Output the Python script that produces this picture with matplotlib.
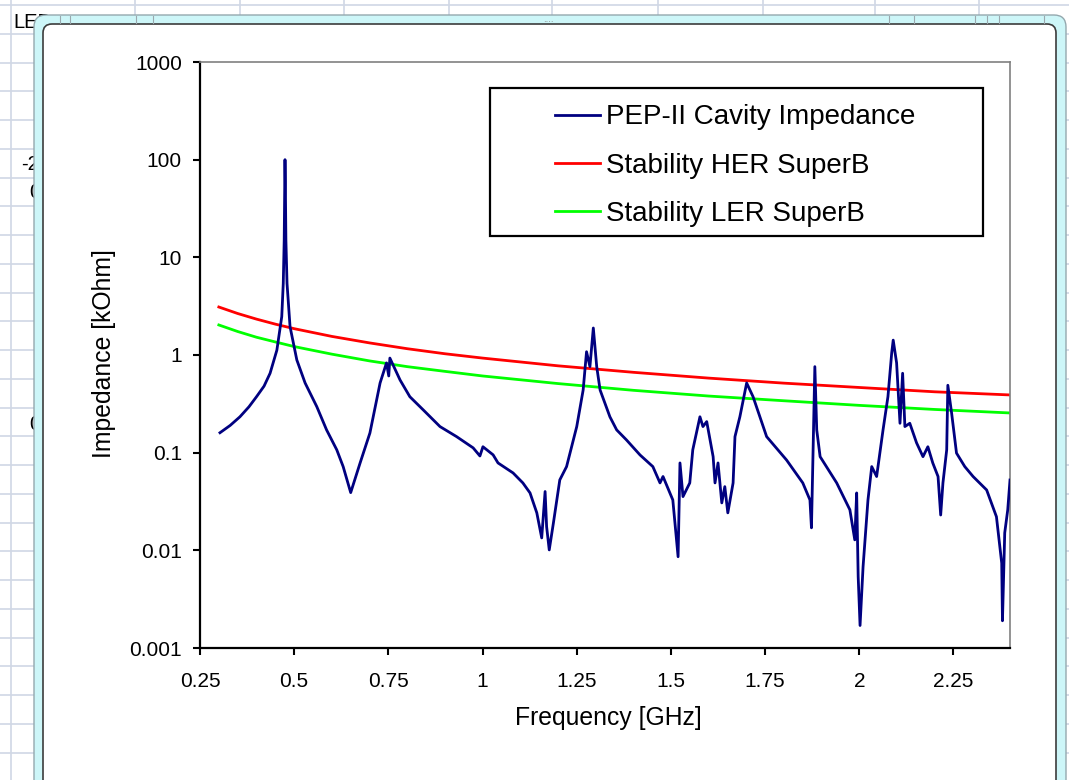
"""PEP-II cavity impedance vs SuperB stability limits (Excel screenshot look)."""
import matplotlib
matplotlib.use("Agg")
import matplotlib.pyplot as plt
from matplotlib.patches import FancyBboxPatch, Rectangle
from matplotlib.ticker import NullLocator
import numpy as np

plt.rcParams["font.family"] = ["Liberation Sans", "DejaVu Sans"]

# ── data ────────────────────────────────────────────────────────────────────
PEP_FREQ = [
    0.303, 0.330, 0.356, 0.380, 0.400, 0.420, 0.436, 0.454, 0.467, 0.471,
    0.4735, 0.475, 0.4756, 0.4765, 0.478, 0.481, 0.489, 0.507, 0.529, 0.560,
    0.586, 0.613, 0.630, 0.650, 0.675, 0.701, 0.728, 0.745, 0.751, 0.754,
    0.781, 0.807, 0.843, 0.887, 0.931, 0.975, 0.993, 1.001, 1.028, 1.041,
    1.081, 1.107, 1.126, 1.144, 1.157, 1.166, 1.170, 1.177, 1.188, 1.205,
    1.223, 1.250, 1.267, 1.276, 1.285, 1.294, 1.303, 1.312, 1.338, 1.356,
    1.382, 1.418, 1.452, 1.471, 1.479, 1.505, 1.519, 1.524, 1.532, 1.550,
    1.558, 1.577, 1.585, 1.595, 1.612, 1.617, 1.625, 1.635, 1.643, 1.651,
    1.665, 1.670, 1.683, 1.701, 1.718, 1.754, 1.807, 1.850, 1.869, 1.873,
    1.882, 1.887, 1.896, 1.940, 1.975, 1.988, 1.993, 1.997, 2.002, 2.010,
    2.023, 2.033, 2.046, 2.063, 2.076, 2.086, 2.090, 2.099, 2.108, 2.115,
    2.121, 2.134, 2.152, 2.169, 2.182, 2.195, 2.209, 2.216, 2.222, 2.232,
    2.235, 2.245, 2.258, 2.280, 2.302, 2.338, 2.364, 2.378, 2.380, 2.386,
    2.394, 2.400,
]
PEP_Z = [
    0.160, 0.190, 0.233, 0.295, 0.374, 0.48, 0.65, 1.12, 2.47, 5.4,
    15, 60, 100, 60, 15, 5.4, 1.95, 0.89, 0.517, 0.296,
    0.171, 0.107, 0.072, 0.039, 0.0785, 0.159, 0.517, 0.83, 0.61, 0.93,
    0.555, 0.374, 0.273, 0.185, 0.146, 0.112, 0.0925, 0.115, 0.095, 0.0785,
    0.062, 0.049, 0.0387, 0.0242, 0.0134, 0.040, 0.0175, 0.0101, 0.019, 0.0526,
    0.072, 0.185, 0.438, 1.08, 0.76, 1.89, 0.76, 0.438, 0.233, 0.171,
    0.135, 0.0947, 0.072, 0.049, 0.057, 0.0328, 0.0086, 0.0785, 0.0355, 0.049,
    0.107, 0.233, 0.185, 0.208, 0.091, 0.049, 0.0785, 0.0306, 0.0449, 0.0242,
    0.049, 0.146, 0.233, 0.517, 0.374, 0.146, 0.084, 0.049, 0.0328, 0.017,
    0.76, 0.171, 0.091, 0.049, 0.026, 0.0128, 0.0387, 0.0054, 0.0017, 0.0068,
    0.0328, 0.072, 0.057, 0.171, 0.374, 1.05, 1.42, 0.83, 0.20, 0.65,
    0.185, 0.20, 0.126, 0.091, 0.115, 0.0785, 0.057, 0.023, 0.049, 0.107,
    0.49, 0.255, 0.099, 0.072, 0.057, 0.0415, 0.0221, 0.0074, 0.0019, 0.0151,
    0.026, 0.0525,
]

STAB_FREQ = [0.30, 0.35, 0.40, 0.45, 0.50, 0.60, 0.70, 0.80, 0.90, 1.00,
             1.20, 1.40, 1.60, 1.80, 2.00, 2.20, 2.40]
HER_Z = [3.10, 2.66, 2.33, 2.07, 1.86, 1.55, 1.33, 1.16, 1.03, 0.93,
         0.775, 0.665, 0.58, 0.515, 0.465, 0.42, 0.39]
LER_Z = [2.03, 1.74, 1.52, 1.36, 1.22, 1.02, 0.87, 0.76, 0.68, 0.61,
         0.51, 0.435, 0.38, 0.34, 0.305, 0.277, 0.255]

X_TICKS = [0.25, 0.5, 0.75, 1.0, 1.25, 1.5, 1.75, 2.0, 2.25]
X_LABELS = ["0.25", "0.5", "0.75", "1", "1.25", "1.5", "1.75", "2", "2.25"]
Y_TICKS = [0.001, 0.01, 0.1, 1, 10, 100, 1000]
Y_LABELS = ["0.001", "0.01", "0.1", "1", "10", "100", "1000"]

W, H = 1069, 780
fig = plt.figure(figsize=(W / 100, H / 100), dpi=100)

# ── spreadsheet + chart window backdrop (pixel coords) ─────────────────────
bg = fig.add_axes([0, 0, 1, 1])
bg.set_xlim(0, W)
bg.set_ylim(H, 0)
bg.axis("off")
bg.set_zorder(0)
grid_c = "#D0D7E5"
for yy in np.arange(5, H + 10, 28.75):
    bg.plot([0, W], [yy, yy], color=grid_c, lw=1.2, zorder=1)
for xx in [11, 135, 240, 344, 449, 552, 658, 763, 875, 979]:
    bg.plot([xx, xx], [0, H], color=grid_c, lw=1.2, zorder=1)
bg.text(13, 23, "LEB", fontsize=14.5, va="center", zorder=2)
bg.text(21, 164, "-2", fontsize=14.5, va="center", zorder=2)
bg.text(29, 192, "0", fontsize=14.5, va="center", zorder=2)
bg.text(29, 424, "0", fontsize=14.5, va="center", zorder=2)

bg.add_patch(FancyBboxPatch((34, 15), 1032, 820,
                            boxstyle="round,pad=0,rounding_size=12",
                            fc="#CDF6F8", ec="#94A8AE", lw=1.0, zorder=3))
bg.add_patch(FancyBboxPatch((43, 24), 1013, 820,
                            boxstyle="round,pad=0,rounding_size=9",
                            fc="white", ec="#3C3C3C", lw=1.2, zorder=4))
for xx in [60, 70, 136, 153, 889, 914, 975, 987, 999, 1044]:
    bg.plot([xx, xx], [16, 23], color="#9AA8AE", lw=0.8, zorder=5)
bg.text(548, 19.5, "....", fontsize=7, color="#888888", ha="center",
        va="center", zorder=5)

# ── main plot ───────────────────────────────────────────────────────────────
ax = fig.add_axes([200 / W, 1 - 648 / H, 810 / W, 586 / H])
ax.set_zorder(2)
ax.set_facecolor("white")

ax.plot(PEP_FREQ, PEP_Z, color="#000080", lw=2.0,
        label="PEP-II Cavity Impedance", zorder=3)
ax.plot(STAB_FREQ, HER_Z, color="#FF0000", lw=2.0,
        label="Stability HER SuperB", zorder=2)
ax.plot(STAB_FREQ, LER_Z, color="#00FF00", lw=2.0,
        label="Stability LER SuperB", zorder=2)

ax.set_yscale("log")
ax.set_xlim(0.25, 2.4)
ax.set_ylim(0.001, 1000)
ax.set_xticks(X_TICKS)
ax.set_xticklabels(X_LABELS)
ax.set_yticks(Y_TICKS)
ax.set_yticklabels(Y_LABELS)
ax.yaxis.set_minor_locator(NullLocator())
ax.xaxis.set_minor_locator(NullLocator())
ax.tick_params(axis="both", direction="out", length=5, width=1.5,
               labelsize=15, color="black")
ax.tick_params(axis="y", pad=8)
ax.tick_params(axis="x", pad=12)

for side in ["left", "bottom"]:
    ax.spines[side].set_color("black")
    ax.spines[side].set_linewidth(1.6)
for side in ["top", "right"]:
    ax.spines[side].set_color("#808080")
    ax.spines[side].set_linewidth(1.2)

ax.set_xlabel("Frequency [GHz]", fontsize=17.8)
ax.set_ylabel("Impedance [kOhm]", fontsize=17.8)
ax.xaxis.set_label_coords(0.5037, -0.1195)
ax.xaxis.label.set_va("center")
ax.yaxis.set_label_coords(-0.1185, 0.5017)
ax.yaxis.label.set_va("center")

# legend box drawn separately so its border matches the Excel frame
ax.add_patch(Rectangle((0.358, 0.7031), 0.6086, 0.2526, transform=ax.transAxes,
                       fc="white", ec="black", lw=1.6, zorder=4))
leg = ax.legend(loc="upper left", bbox_to_anchor=(0.4383, 0.9275),
                frameon=False, fontsize=20, borderpad=0, borderaxespad=0,
                handlelength=1.62, handletextpad=0.2, labelspacing=0.80)
leg.set_zorder(5)

fig.savefig("out.png", dpi=100)
